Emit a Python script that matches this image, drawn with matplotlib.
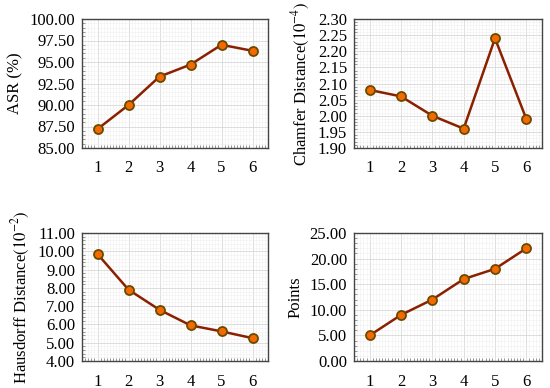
import matplotlib.pyplot as plt
from matplotlib.ticker import AutoMinorLocator, FormatStrFormatter

plt.rcParams['font.family'] = ['Liberation Serif', 'DejaVu Serif']
plt.rcParams['mathtext.fontset'] = 'stix'

steps = [1, 2, 3, 4, 5, 6]
asr = [87.2, 90.0, 93.3, 94.7, 97.0, 96.3]
chamfer = [2.08, 2.06, 2.00, 1.96, 2.24, 1.99]
hausdorff = [9.85, 7.9, 6.8, 5.95, 5.62, 5.25]
points = [5, 9, 12, 16, 18, 22]

panels = [
    (asr, 'ASR (%)', (85, 100), 2.5),
    (chamfer, r'Chamfer Distance$(10^{-4})$', (1.90, 2.30), 0.05),
    (hausdorff, r'Hausdorff Distance$(10^{-2})$', (4, 11), 1.0),
    (points, 'Points', (0, 25), 5.0),
]

fig = plt.figure(figsize=(5.5, 3.88), dpi=100)
W, H = 550, 388
boxes = [(82, 19, 268, 148), (354, 19, 542, 148),
         (82, 233, 268, 361), (354, 233, 542, 361)]

for (vals, label, ylim, step), (x0, y0, x1, y1) in zip(panels, boxes):
    ax = fig.add_axes([x0 / W, 1 - y1 / H, (x1 - x0) / W, (y1 - y0) / H])
    ax.plot(steps, vals, color='#8b2000', linewidth=1.8, marker='o',
            markersize=6.5, markerfacecolor='#f56a00',
            markeredgecolor='#6b4a00', markeredgewidth=1.3, zorder=3)
    ax.set_xlim(0.5, 6.5)
    ax.set_ylim(*ylim)
    ax.set_xticks(steps)
    ax.set_yticks([ylim[0] + i * step for i in range(int(round((ylim[1] - ylim[0]) / step)) + 1)])
    ax.yaxis.set_major_formatter(FormatStrFormatter('%.2f'))
    ax.xaxis.set_minor_locator(AutoMinorLocator(10))
    ax.yaxis.set_minor_locator(AutoMinorLocator(5))
    ax.grid(True, which='major', color='#d8d8d8', linewidth=0.6)
    ax.grid(True, which='minor', color='#efefef', linewidth=0.4)
    ax.set_axisbelow(True)
    ax.tick_params(which='both', direction='in', labelsize=12, top=False, right=False)
    ax.tick_params(which='major', length=0)
    ax.tick_params(axis='x', which='major', pad=9)
    ax.tick_params(axis='y', which='major', pad=5)
    ax.tick_params(which='minor', length=2.5, color='#888888')
    ax.set_ylabel(label, fontsize=12)
    for s in ax.spines.values():
        s.set_color('#444444')
        s.set_linewidth(1.0)

fig.savefig('out.png', dpi=100)
